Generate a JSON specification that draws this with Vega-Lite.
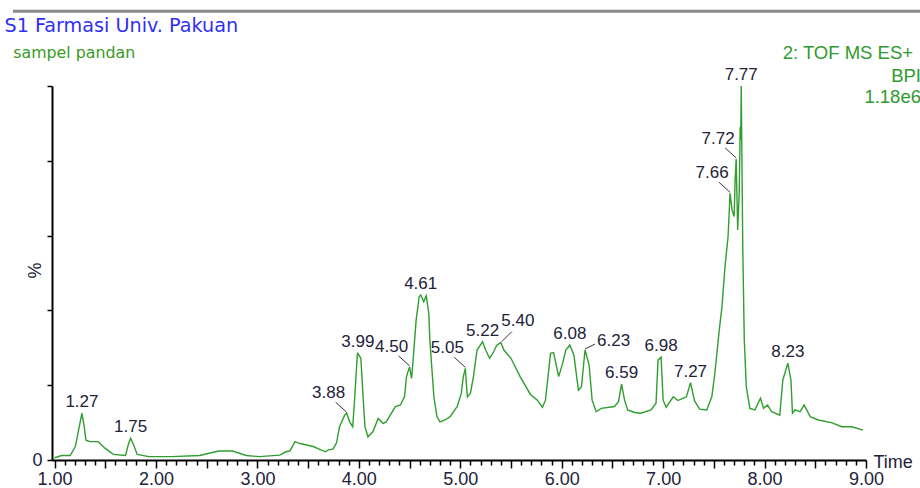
{
  "$schema": "https://vega.github.io/schema/vega-lite/v6.json",
  "width": 814,
  "height": 374,
  "autosize": {"type": "none"},
  "padding": {"left": 52, "top": 86, "right": 54, "bottom": 28},
  "background": "#ffffff",
  "config": {
    "view": {"stroke": null},
    "font": "Liberation Sans",
    "text": {"font": "Liberation Sans"}
  },
  "resolve": {"axis": {"x": "independent"}},
  "datasets": {
    "trace": [
      {"rt": 1.0, "pct": 0.6}, {"rt": 1.07, "pct": 1.2}, {"rt": 1.155, "pct": 1.2}, {"rt": 1.205, "pct": 3.6},
      {"rt": 1.27, "pct": 12.5}, {"rt": 1.29, "pct": 9.4}, {"rt": 1.31, "pct": 5.3}, {"rt": 1.35, "pct": 4.9},
      {"rt": 1.43, "pct": 4.9}, {"rt": 1.5, "pct": 3.1}, {"rt": 1.58, "pct": 1.5}, {"rt": 1.7, "pct": 1.2},
      {"rt": 1.73, "pct": 4.4}, {"rt": 1.75, "pct": 5.8}, {"rt": 1.78, "pct": 4.0}, {"rt": 1.815, "pct": 1.5},
      {"rt": 1.93, "pct": 0.9}, {"rt": 2.16, "pct": 0.9}, {"rt": 2.43, "pct": 1.2}, {"rt": 2.62, "pct": 2.4},
      {"rt": 2.755, "pct": 2.4}, {"rt": 2.89, "pct": 1.2}, {"rt": 3.02, "pct": 0.9}, {"rt": 3.22, "pct": 1.3},
      {"rt": 3.28, "pct": 2.2}, {"rt": 3.32, "pct": 2.4}, {"rt": 3.37, "pct": 4.9}, {"rt": 3.42, "pct": 4.4},
      {"rt": 3.55, "pct": 3.6}, {"rt": 3.67, "pct": 2.2}, {"rt": 3.7, "pct": 2.7}, {"rt": 3.745, "pct": 2.9},
      {"rt": 3.78, "pct": 4.6}, {"rt": 3.81, "pct": 8.9}, {"rt": 3.86, "pct": 12.0}, {"rt": 3.88, "pct": 12.5},
      {"rt": 3.91, "pct": 10.2}, {"rt": 3.94, "pct": 8.9}, {"rt": 3.96, "pct": 16.9}, {"rt": 3.985, "pct": 28.1},
      {"rt": 3.99, "pct": 28.5}, {"rt": 4.02, "pct": 27.2}, {"rt": 4.04, "pct": 17.8}, {"rt": 4.06, "pct": 8.9},
      {"rt": 4.09, "pct": 6.2}, {"rt": 4.14, "pct": 7.6}, {"rt": 4.19, "pct": 11.1}, {"rt": 4.24, "pct": 9.8},
      {"rt": 4.27, "pct": 10.2}, {"rt": 4.36, "pct": 14.3}, {"rt": 4.41, "pct": 14.7}, {"rt": 4.45, "pct": 16.9},
      {"rt": 4.47, "pct": 22.3}, {"rt": 4.49, "pct": 24.1}, {"rt": 4.5, "pct": 24.9}, {"rt": 4.52, "pct": 21.8},
      {"rt": 4.54, "pct": 28.5}, {"rt": 4.565, "pct": 37.4}, {"rt": 4.595, "pct": 43.7}, {"rt": 4.61, "pct": 44.1},
      {"rt": 4.64, "pct": 42.3}, {"rt": 4.665, "pct": 43.9}, {"rt": 4.69, "pct": 39.2}, {"rt": 4.7, "pct": 32.1},
      {"rt": 4.74, "pct": 16.9}, {"rt": 4.77, "pct": 11.6}, {"rt": 4.8, "pct": 10.2}, {"rt": 4.85, "pct": 10.7},
      {"rt": 4.9, "pct": 11.6}, {"rt": 4.97, "pct": 14.3}, {"rt": 5.01, "pct": 17.8}, {"rt": 5.03, "pct": 22.3},
      {"rt": 5.05, "pct": 24.5}, {"rt": 5.06, "pct": 20.5}, {"rt": 5.07, "pct": 16.9}, {"rt": 5.1, "pct": 17.8},
      {"rt": 5.13, "pct": 22.3}, {"rt": 5.165, "pct": 29.4}, {"rt": 5.22, "pct": 31.6}, {"rt": 5.25, "pct": 29.4},
      {"rt": 5.29, "pct": 27.2}, {"rt": 5.33, "pct": 29.0}, {"rt": 5.36, "pct": 30.7}, {"rt": 5.4, "pct": 31.4},
      {"rt": 5.43, "pct": 29.4}, {"rt": 5.5, "pct": 27.2}, {"rt": 5.59, "pct": 22.3}, {"rt": 5.69, "pct": 17.6},
      {"rt": 5.76, "pct": 16.0}, {"rt": 5.81, "pct": 14.1}, {"rt": 5.84, "pct": 16.0}, {"rt": 5.89, "pct": 28.5},
      {"rt": 5.92, "pct": 28.7}, {"rt": 5.97, "pct": 22.3}, {"rt": 6.01, "pct": 25.9}, {"rt": 6.04, "pct": 29.4},
      {"rt": 6.08, "pct": 30.7}, {"rt": 6.12, "pct": 28.1}, {"rt": 6.165, "pct": 18.7}, {"rt": 6.195, "pct": 19.6},
      {"rt": 6.23, "pct": 29.4}, {"rt": 6.27, "pct": 25.4}, {"rt": 6.3, "pct": 16.0}, {"rt": 6.34, "pct": 12.9},
      {"rt": 6.39, "pct": 13.8}, {"rt": 6.52, "pct": 14.3}, {"rt": 6.56, "pct": 15.6}, {"rt": 6.59, "pct": 20.3},
      {"rt": 6.62, "pct": 16.0}, {"rt": 6.65, "pct": 13.4}, {"rt": 6.72, "pct": 12.7}, {"rt": 6.78, "pct": 12.5},
      {"rt": 6.88, "pct": 13.4}, {"rt": 6.93, "pct": 15.2}, {"rt": 6.95, "pct": 26.7}, {"rt": 6.98, "pct": 27.5},
      {"rt": 7.0, "pct": 16.0}, {"rt": 7.03, "pct": 14.1}, {"rt": 7.1, "pct": 16.9}, {"rt": 7.145, "pct": 15.9},
      {"rt": 7.195, "pct": 16.5}, {"rt": 7.23, "pct": 16.9}, {"rt": 7.27, "pct": 20.7}, {"rt": 7.31, "pct": 15.8},
      {"rt": 7.36, "pct": 13.6}, {"rt": 7.43, "pct": 13.4}, {"rt": 7.48, "pct": 16.9}, {"rt": 7.51, "pct": 23.2},
      {"rt": 7.55, "pct": 33.9}, {"rt": 7.58, "pct": 41.0}, {"rt": 7.61, "pct": 51.7}, {"rt": 7.64, "pct": 59.7},
      {"rt": 7.66, "pct": 71.3}, {"rt": 7.68, "pct": 66.8}, {"rt": 7.7, "pct": 65.1}, {"rt": 7.71, "pct": 74.9},
      {"rt": 7.72, "pct": 80.5}, {"rt": 7.735, "pct": 61.5}, {"rt": 7.75, "pct": 71.3}, {"rt": 7.76, "pct": 89.1},
      {"rt": 7.765, "pct": 85.6}, {"rt": 7.77, "pct": 100.0}, {"rt": 7.785, "pct": 57.0}, {"rt": 7.8, "pct": 32.1},
      {"rt": 7.82, "pct": 19.6}, {"rt": 7.855, "pct": 13.8}, {"rt": 7.905, "pct": 13.4}, {"rt": 7.96, "pct": 16.5},
      {"rt": 7.99, "pct": 13.8}, {"rt": 8.03, "pct": 14.7}, {"rt": 8.07, "pct": 12.9}, {"rt": 8.15, "pct": 12.0},
      {"rt": 8.18, "pct": 21.4}, {"rt": 8.23, "pct": 25.9}, {"rt": 8.26, "pct": 21.4}, {"rt": 8.275, "pct": 12.5},
      {"rt": 8.3, "pct": 13.4}, {"rt": 8.35, "pct": 12.9}, {"rt": 8.39, "pct": 14.7}, {"rt": 8.45, "pct": 11.6},
      {"rt": 8.53, "pct": 10.7}, {"rt": 8.66, "pct": 10.0}, {"rt": 8.76, "pct": 8.9}, {"rt": 8.86, "pct": 8.9},
      {"rt": 8.97, "pct": 8.0}
    ],
    "peaks": [
      {"rt": 1.27, "pct": 12.5}, {"rt": 1.75, "pct": 5.8}, {"rt": 3.88, "pct": 12.5}, {"rt": 3.99, "pct": 28.5},
      {"rt": 4.5, "pct": 24.9}, {"rt": 4.61, "pct": 44.1}, {"rt": 5.05, "pct": 24.5}, {"rt": 5.22, "pct": 31.6},
      {"rt": 5.4, "pct": 31.4}, {"rt": 6.08, "pct": 30.7}, {"rt": 6.23, "pct": 29.4}, {"rt": 6.59, "pct": 20.3},
      {"rt": 6.98, "pct": 27.5}, {"rt": 7.27, "pct": 20.7}, {"rt": 7.66, "pct": 71.3}, {"rt": 7.72, "pct": 80.5},
      {"rt": 7.77, "pct": 100.0}, {"rt": 8.23, "pct": 25.9}
    ]
  },
  "layer": [
    {
      "data": {"name": "trace"},
      "mark": {"type": "line", "color": "#2f9e2f", "strokeWidth": 1.4, "interpolate": "linear"},
      "encoding": {
        "x": {
          "field": "rt", "type": "quantitative",
          "scale": {"domain": [0.975, 9.0], "nice": false, "zero": false},
          "axis": {
            "orient": "bottom",
            "title": "Time",
            "values": [1.1, 1.2, 1.3, 1.4, 1.6, 1.7, 1.8, 1.9, 2.1, 2.2, 2.3, 2.4, 2.6, 2.7, 2.8, 2.9, 3.1, 3.2, 3.3, 3.4, 3.6, 3.7, 3.8, 3.9, 4.1, 4.2, 4.3, 4.4, 4.6, 4.7, 4.8, 4.9, 5.1, 5.2, 5.3, 5.4, 5.6, 5.7, 5.8, 5.9, 6.1, 6.2, 6.3, 6.4, 6.6, 6.7, 6.8, 6.9, 7.1, 7.2, 7.3, 7.4, 7.6, 7.7, 7.8, 7.9, 8.1, 8.2, 8.3, 8.4, 8.6, 8.7, 8.8, 8.9],
            "labels": false,
            "tickSize": 5,
            "tickColor": "#000000",
            "tickWidth": 1.5,
            "domainColor": "#000000",
            "domainWidth": 2,
            "grid": false,
            "titleFont": "Liberation Sans",
            "titleFontSize": 18,
            "titleFontWeight": "normal",
            "titleColor": "#22223a",
            "titleAlign": "left",
            "titleBaseline": "alphabetic",
            "titleX": 821,
            "titleY": 7
          }
        },
        "y": {
          "field": "pct", "type": "quantitative",
          "scale": {"domain": [0, 100], "nice": false},
          "axis": {
            "title": "%",
            "values": [0, 10, 20, 30, 40, 50, 60, 70, 80, 90, 100],
            "labelExpr": "datum.value == 0 ? '0' : ''",
            "labelOverlap": false,
            "labelFont": "Liberation Sans",
            "labelFontSize": 18,
            "labelColor": "#22223a",
            "labelPadding": 5,
            "tickSize": 5,
            "tickColor": "#000000",
            "tickWidth": 1.5,
            "domainColor": "#000000",
            "domainWidth": 2,
            "grid": false,
            "titleFont": "Liberation Sans",
            "titleFontSize": 18,
            "titleFontWeight": "normal",
            "titleColor": "#22223a",
            "titleAngle": -90,
            "titleAlign": "center",
            "titleBaseline": "middle",
            "titleX": -17,
            "titleY": 184
          }
        }
      }
    },
    {
      "data": {"name": "peaks"},
      "transform": [{"filter": {"field": "rt", "oneOf": [3.88, 4.5, 5.05, 7.66, 7.72]}}],
      "mark": {"type": "rule", "color": "#333333", "strokeWidth": 1, "xOffset": 0, "yOffset": -1, "x2Offset": -11, "y2Offset": -11},
      "encoding": {
        "x": {"field": "rt", "type": "quantitative", "axis": null},
        "y": {"field": "pct", "type": "quantitative"},
        "x2": {"field": "rt"},
        "y2": {"field": "pct"}
      }
    },
    {
      "data": {"name": "peaks"},
      "transform": [{"filter": {"field": "rt", "oneOf": [5.4]}}],
      "mark": {"type": "rule", "color": "#333333", "strokeWidth": 1, "xOffset": 1, "yOffset": -1, "x2Offset": 11, "y2Offset": -11},
      "encoding": {
        "x": {"field": "rt", "type": "quantitative", "axis": null},
        "y": {"field": "pct", "type": "quantitative"},
        "x2": {"field": "rt"},
        "y2": {"field": "pct"}
      }
    },
    {
      "data": {"name": "peaks"},
      "transform": [{"filter": {"field": "rt", "oneOf": [6.23]}}],
      "mark": {"type": "rule", "color": "#333333", "strokeWidth": 1, "xOffset": 0, "yOffset": -1, "x2Offset": 10, "y2Offset": -6},
      "encoding": {
        "x": {"field": "rt", "type": "quantitative", "axis": null},
        "y": {"field": "pct", "type": "quantitative"},
        "x2": {"field": "rt"},
        "y2": {"field": "pct"}
      }
    },
    {
      "data": {"name": "peaks"},
      "transform": [{"filter": {"field": "rt", "oneOf": [1.27, 1.75, 3.99, 4.61, 5.22, 6.08, 6.59, 6.98, 7.27, 7.77, 8.23]}}],
      "mark": {"type": "text", "fontSize": 17, "color": "#22223a", "align": "center", "baseline": "middle", "dy": -11},
      "encoding": {
        "x": {
          "field": "rt", "type": "quantitative",
          "axis": {
            "orient": "bottom",
            "title": null,
            "values": [1, 1.5, 2, 2.5, 3, 3.5, 4, 4.5, 5, 5.5, 6, 6.5, 7, 7.5, 8, 8.5, 9],
            "labelExpr": "datum.value % 1 == 0 ? format(datum.value, '.2f') : ''",
            "labelOverlap": false,
            "labelFlush": false,
            "labelFont": "Liberation Sans",
            "labelFontSize": 18,
            "labelColor": "#22223a",
            "labelBaseline": "alphabetic",
            "labelPadding": 16.5,
            "tickSize": 8,
            "tickColor": "#000000",
            "tickWidth": 1.5,
            "domain": false,
            "grid": false
          }
        },
        "y": {"field": "pct", "type": "quantitative"},
        "text": {"field": "rt", "type": "quantitative", "format": ".2f"}
      }
    },
    {
      "data": {"name": "peaks"},
      "transform": [{"filter": {"field": "rt", "oneOf": [3.88, 4.5, 5.05, 7.66, 7.72]}}],
      "mark": {"type": "text", "fontSize": 17, "color": "#22223a", "align": "center", "baseline": "middle", "dx": -18, "dy": -20},
      "encoding": {
        "x": {"field": "rt", "type": "quantitative", "axis": null},
        "y": {"field": "pct", "type": "quantitative"},
        "text": {"field": "rt", "type": "quantitative", "format": ".2f"}
      }
    },
    {
      "data": {"name": "peaks"},
      "transform": [{"filter": {"field": "rt", "oneOf": [5.4]}}],
      "mark": {"type": "text", "fontSize": 17, "color": "#22223a", "align": "center", "baseline": "middle", "dx": 17, "dy": -21.5},
      "encoding": {
        "x": {"field": "rt", "type": "quantitative", "axis": null},
        "y": {"field": "pct", "type": "quantitative"},
        "text": {"field": "rt", "type": "quantitative", "format": ".2f"}
      }
    },
    {
      "data": {"name": "peaks"},
      "transform": [{"filter": {"field": "rt", "oneOf": [6.23]}}],
      "mark": {"type": "text", "fontSize": 17, "color": "#22223a", "align": "left", "baseline": "middle", "dx": 12, "dy": -9},
      "encoding": {
        "x": {"field": "rt", "type": "quantitative", "axis": null},
        "y": {"field": "pct", "type": "quantitative"},
        "text": {"field": "rt", "type": "quantitative", "format": ".2f"}
      }
    },
    {
      "data": {"values": [{"start": 0.59, "end": 9.6, "level": 120}]},
      "mark": {"type": "rule", "color": "#8a8a8a", "strokeWidth": 3},
      "encoding": {
        "x": {"field": "start", "type": "quantitative", "axis": null},
        "x2": {"field": "end"},
        "y": {"field": "level", "type": "quantitative"}
      }
    },
    {
      "data": {"values": [{"label": "S1 Farmasi Univ. Pakuan", "at": 0.507, "level": 114.4}]},
      "mark": {"type": "text", "font": "DejaVu Sans", "fontSize": 19.2, "color": "#3030f5", "align": "left", "baseline": "alphabetic"},
      "encoding": {
        "x": {"field": "at", "type": "quantitative", "axis": null},
        "y": {"field": "level", "type": "quantitative"},
        "text": {"field": "label"}
      }
    },
    {
      "data": {"values": [{"label": "sampel pandan", "at": 0.593, "level": 107.6}]},
      "mark": {"type": "text", "font": "DejaVu Sans", "fontSize": 15.8, "color": "#3a9a22", "align": "left", "baseline": "alphabetic"},
      "encoding": {
        "x": {"field": "at", "type": "quantitative", "axis": null},
        "y": {"field": "level", "type": "quantitative"},
        "text": {"field": "label"}
      }
    },
    {
      "data": {"values": [
        {"label": "2: TOF MS ES+", "at": 9.464, "level": 107.1},
        {"label": "BPI", "at": 9.542, "level": 101.1},
        {"label": "1.18e6", "at": 9.542, "level": 95.45}
      ]},
      "mark": {"type": "text", "fontSize": 18.5, "color": "#2f9a2f", "align": "right", "baseline": "alphabetic"},
      "encoding": {
        "x": {"field": "at", "type": "quantitative", "axis": null},
        "y": {"field": "level", "type": "quantitative"},
        "text": {"field": "label"}
      }
    }
  ]
}
